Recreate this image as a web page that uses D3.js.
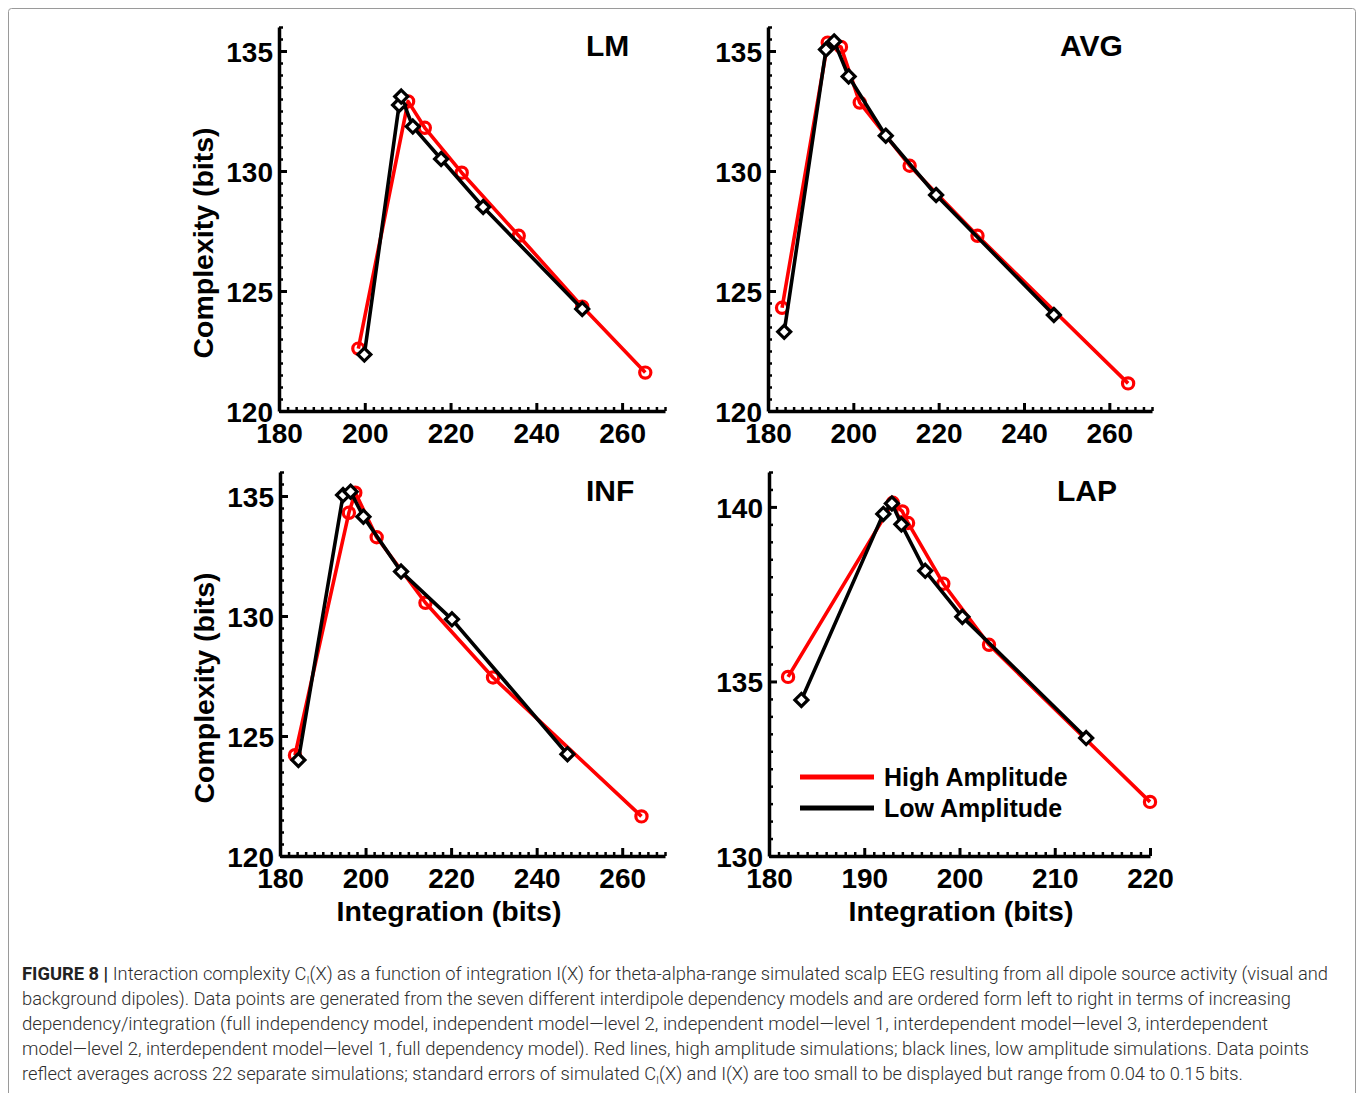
<!DOCTYPE html>
<html>
<head>
<meta charset="utf-8">
<script src="https://cdn.jsdelivr.net/npm/d3@7"></script>
<style>
  html, body { margin: 0; padding: 0; background: #fff; }
  svg { display: block; }
  .tick text { font-family: "Liberation Sans", Arial, sans-serif; font-weight: bold; }
</style>
</head>
<body>
<svg id="fig" width="1358" height="1093"></svg>
<script>
// Integration I(X) (x) and interaction complexity C_I(X) (y), seven dependency models per series
const lmHighX  = [198.5, 210.1, 214.0, 222.6, 235.9, 250.7, 265.4];
const lmHighY  = [122.6, 132.9, 131.8, 129.93, 127.3, 124.35, 121.6];
const lmLowX   = [199.9, 208.0, 208.5, 211.2, 217.8, 227.6, 250.7];
const lmLowY   = [122.35, 132.75, 133.1, 131.85, 130.5, 128.5, 124.25];

const avgHighX = [183.3, 194.0, 197.1, 201.5, 213.2, 229.1, 264.4];
const avgHighY = [124.3, 135.35, 135.17, 132.85, 130.22, 127.3, 121.15];
const avgLowX  = [183.8, 193.6, 195.5, 198.9, 207.6, 219.4, 247.0];
const avgLowY  = [123.3, 135.06, 135.4, 133.94, 131.47, 129.0, 124.0];

const infHighX = [183.5, 196.1, 197.6, 202.6, 214.0, 229.8, 264.5];
const infHighY = [124.2, 134.3, 135.14, 133.28, 130.55, 127.44, 121.65];
const infLowX  = [184.3, 194.75, 196.5, 199.5, 208.3, 220.2, 247.2];
const infLowY  = [124.0, 135.04, 135.18, 134.14, 131.85, 129.86, 124.24];

const lapHighX = [182.0, 193.0, 194.0, 194.6, 198.3, 203.1, 220.0];
const lapHighY = [135.13, 140.12, 139.87, 139.54, 137.8, 136.05, 131.55];
const lapLowX  = [183.4, 192.0, 192.9, 193.9, 196.4, 200.3, 213.3];
const lapLowY  = [134.47, 139.8, 140.1, 139.5, 138.17, 136.85, 133.38];

// Tick labels
const xTicksWide   = [180, 200, 220, 240, 260];
const yTicksWide   = [120, 125, 130, 135];
const xTicksLap    = [180, 190, 200, 210, 220];
const yTicksLap    = [130, 135, 140];

const panelNames   = ["LM", "AVG", "INF", "LAP"];
const seriesNames  = ["High Amplitude", "Low Amplitude"];
const xTitle = "Integration (bits)";
const yTitle = "Complexity (bits)";

const svg = d3.select("#fig");
const FONT = '"Liberation Sans", Arial, Helvetica, sans-serif';

// Outer frame of the figure
svg.append("rect")
  .attr("x", 8.5).attr("y", 8.5).attr("width", 1347).attr("height", 1100)
  .attr("rx", 3)
  .attr("fill", "none").attr("stroke", "#9a9a9a").attr("stroke-width", 1);

const panels = [
  { name: panelNames[0], left: 279, top: 27, w: 386, h: 384,
    xd: [180, 270], yd: [120, 136], xt: xTicksWide, yt: yTicksWide, xm: 2, ym: 0.5,
    hx: lmHighX, hy: lmHighY, lx: lmLowX, ly: lmLowY,
    titleX: 586, yLabel: true, xLabel: false },
  { name: panelNames[1], left: 768, top: 27, w: 384, h: 384,
    xd: [180, 270], yd: [120, 136], xt: xTicksWide, yt: yTicksWide, xm: 2, ym: 0.5,
    hx: avgHighX, hy: avgHighY, lx: avgLowX, ly: avgLowY,
    titleX: 1060, yLabel: false, xLabel: false },
  { name: panelNames[2], left: 280, top: 472, w: 385, h: 384,
    xd: [180, 270], yd: [120, 136], xt: xTicksWide, yt: yTicksWide, xm: 2, ym: 0.5,
    hx: infHighX, hy: infHighY, lx: infLowX, ly: infLowY,
    titleX: 586, yLabel: true, xLabel: true, xLabelX: 449 },
  { name: panelNames[3], left: 769, top: 472, w: 381, h: 384,
    xd: [180, 220], yd: [130, 141], xt: xTicksLap, yt: yTicksLap, xm: 1, ym: 0.5,
    hx: lapHighX, hy: lapHighY, lx: lapLowX, ly: lapLowY,
    titleX: 1057, yLabel: false, xLabel: true, xLabelX: 961, legend: true }
];

function range(a, b, step) {
  const out = [];
  const n = Math.round((b - a) / step);
  for (let i = 0; i <= n; i++) out.push(+(a + i * step).toFixed(6));
  return out;
}

panels.forEach(p => {
  const g = svg.append("g").attr("transform", `translate(${p.left},${p.top})`);
  const x = d3.scaleLinear().domain(p.xd).range([0, p.w]);
  const y = d3.scaleLinear().domain(p.yd).range([p.h, 0]);

  // minor ticks (inward)
  const xMinor = range(p.xd[0], p.xd[1], p.xm).filter(v => !p.xt.includes(v));
  const yMinor = range(p.yd[0], p.yd[1], p.ym).filter(v => !p.yt.includes(v));
  g.append("g").attr("transform", `translate(0,${p.h})`)
    .call(d3.axisBottom(x).tickValues(xMinor).tickSize(-4).tickFormat(""))
    .call(s => s.select(".domain").remove())
    .call(s => s.selectAll("line").attr("stroke-width", 2.5));
  g.append("g")
    .call(d3.axisLeft(y).tickValues(yMinor).tickSize(-4).tickFormat(""))
    .call(s => s.select(".domain").remove())
    .call(s => s.selectAll("line").attr("stroke-width", 2.5));

  // major ticks with labels
  g.append("g").attr("transform", `translate(0,${p.h})`)
    .call(d3.axisBottom(x).tickValues(p.xt).tickSize(-8).tickPadding(14).tickSizeOuter(0))
    .call(s => s.select(".domain").attr("stroke-width", 3.5))
    .call(s => s.selectAll("line").attr("stroke-width", 3))
    .call(s => s.selectAll("text").attr("font-size", 28).attr("fill", "#000")
      .attr("dy", "0.71em").attr("y", 12));
  g.append("g")
    .call(d3.axisLeft(y).tickValues(p.yt).tickSize(-8).tickPadding(5).tickSizeOuter(0))
    .call(s => s.select(".domain").attr("stroke-width", 3.5))
    .call(s => s.selectAll("line").attr("stroke-width", 3))
    .call(s => s.selectAll("text").attr("font-size", 28).attr("fill", "#000")
      .attr("dy", "0.36em").attr("x", -6));

  // panel title
  svg.append("text")
    .attr("x", p.titleX).attr("y", p.top + 29)
    .attr("font-family", FONT).attr("font-weight", "bold").attr("font-size", 30)
    .text(p.name);

  const line = d3.line().x(d => x(d[0])).y(d => y(d[1]));
  const high = p.hx.map((v, i) => [v, p.hy[i]]);
  const low  = p.lx.map((v, i) => [v, p.ly[i]]);

  // high amplitude: red with open circles
  g.append("path").datum(high).attr("d", line)
    .attr("fill", "none").attr("stroke", "#ff0000").attr("stroke-width", 3.6)
    .attr("stroke-linejoin", "round");
  g.selectAll(".hc").data(high).join("circle")
    .attr("cx", d => x(d[0])).attr("cy", d => y(d[1])).attr("r", 5.6)
    .attr("fill", "none").attr("stroke", "#ff0000").attr("stroke-width", 3.2);

  // low amplitude: black with open diamonds
  g.append("path").datum(low).attr("d", line)
    .attr("fill", "none").attr("stroke", "#000").attr("stroke-width", 3.6)
    .attr("stroke-linejoin", "round");
  g.selectAll(".ld").data(low).join("path")
    .attr("transform", d => `translate(${x(d[0])},${y(d[1])})`)
    .attr("d", "M0,-6.5L6.5,0L0,6.5L-6.5,0Z")
    .attr("fill", "#fff").attr("stroke", "#000").attr("stroke-width", 3.2);

  if (p.yLabel) {
    svg.append("text")
      .attr("transform", `translate(${p.left - 76},${p.top + 216}) rotate(-90)`)
      .attr("text-anchor", "middle").attr("dominant-baseline", "central")
      .attr("font-family", FONT).attr("font-weight", "bold").attr("font-size", 28.5)
      .text(yTitle);
  }
  if (p.xLabel) {
    svg.append("text")
      .attr("x", p.xLabelX).attr("y", p.top + p.h + 65)
      .attr("text-anchor", "middle")
      .attr("font-family", FONT).attr("font-weight", "bold").attr("font-size", 28.5)
      .text(xTitle);
  }
  if (p.legend) {
    const lg = svg.append("g");
    const colors = ["#ff0000", "#000"];
    seriesNames.forEach((s, i) => {
      const ly = 777 + i * 31;
      lg.append("line").attr("x1", 800).attr("x2", 874).attr("y1", ly).attr("y2", ly)
        .attr("stroke", colors[i]).attr("stroke-width", 5);
      lg.append("text").attr("x", 884).attr("y", ly + 9)
        .attr("font-family", FONT).attr("font-weight", "bold").attr("font-size", 25)
        .text(s);
    });
  }
});

// Caption
const CAP_FONT = 'Roboto, "Liberation Sans", sans-serif';
const capLines = [
  { end: 1328, parts: [["FIGURE 8 | ", "b"], ["Interaction complexity C"], ["I", "sub"], ["(X) as a function of integration I(X) for theta-alpha-range simulated scalp EEG resulting from all dipole source activity (visual and"]] },
  { end: 1291, parts: [["background dipoles). Data points are generated from the seven different interdipole dependency models and are ordered form left to right in terms of increasing"]] },
  { end: 1268, parts: [["dependency/integration (full independency model, independent model\u2014level 2, independent model\u2014level 1, interdependent model\u2014level 3, interdependent"]] },
  { end: 1309, parts: [["model\u2014level 2, interdependent model\u2014level 1, full dependency model). Red lines, high amplitude simulations; black lines, low amplitude simulations. Data points"]] },
  { end: 1243, parts: [["reflect averages across 22 separate simulations; standard errors of simulated C"], ["I", "sub"], ["(X) and I(X) are too small to be displayed but range from 0.04 to 0.15 bits."]] }
];
capLines.forEach((ln, i) => {
  const t = svg.append("text")
    .attr("x", 22).attr("y", 980 + i * 25)
    .attr("font-family", CAP_FONT).attr("font-weight", 300).attr("font-size", 17.5).attr("fill", "#2e2e2e")
    .attr("textLength", ln.end - 22).attr("lengthAdjust", "spacingAndGlyphs");
  ln.parts.forEach(([txt, kind]) => {
    const ts = t.append("tspan").text(txt);
    if (kind === "b") ts.attr("font-weight", "bold").attr("fill", "#222");
    if (kind === "sub") ts.attr("font-size", 11).attr("dy", 4);
    else if (kind !== "b" && txt.startsWith("(X)")) ts.attr("dy", -4);
  });
});
</script>
</body>
</html>
